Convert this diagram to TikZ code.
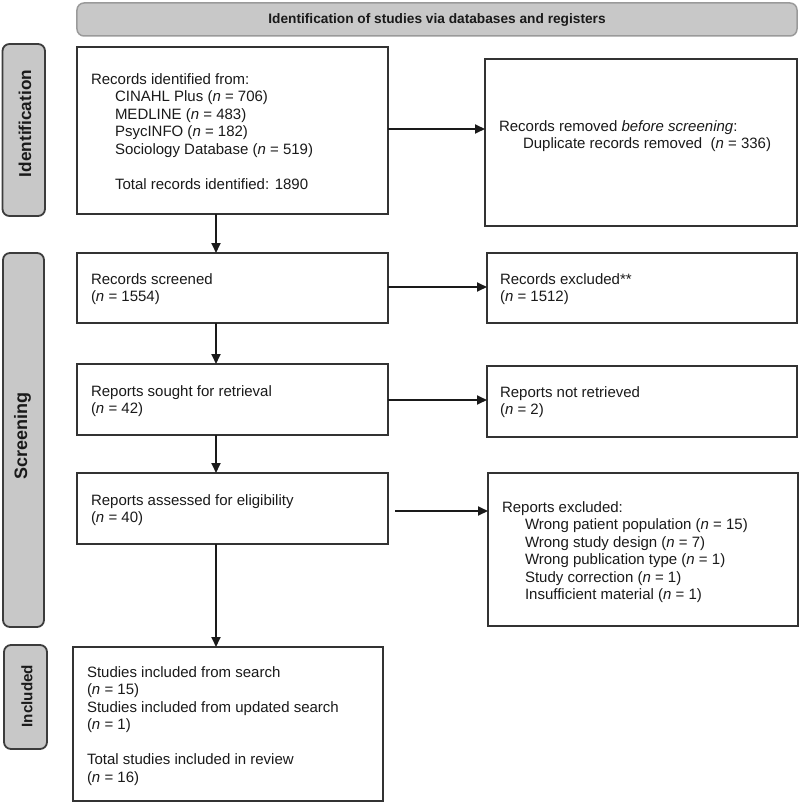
\documentclass[tikz,border=0pt]{standalone}
\usepackage{fontspec}
\setmainfont{Liberation Sans}
\usetikzlibrary{arrows.meta}
\definecolor{sidegray}{HTML}{C8C8C8}
\definecolor{sideline}{HTML}{3C3C3C}
\definecolor{bannerline}{HTML}{9A9A9A}
\definecolor{boxline}{HTML}{333333}
\definecolor{txt}{HTML}{1A1A1A}
\newcommand{\nn}{\textit{n}}
\newcommand{\fl}{\rule{0pt}{12bp}}
\newcommand{\ind}{\hspace*{24bp}}
\begin{document}
\begin{tikzpicture}[x=1bp,y=-1bp,
  every node/.style={inner sep=0pt, outer sep=0pt},
  flowbox/.style={draw=boxline, line width=1.8bp, fill=white, rectangle, anchor=north west},
  boxtext/.style={anchor=north west, align=left, text=txt, font=\fontsize{15bp}{17.5bp}\selectfont},
  sidebox/.style={draw=sideline, line width=1.8bp, fill=sidegray, rounded corners=7bp, rectangle},
  sidetext/.style={rotate=90, text=txt},
  banner/.style={draw=bannerline, line width=1.5bp, fill=sidegray, rounded corners=7bp, rectangle,
    text=txt, font=\bfseries\fontsize{13.7bp}{16bp}\selectfont},
  arr/.style={draw=txt, line width=1.8bp, -{Triangle[length=10bp,width=9bp]}}
]
\useasboundingbox (0,0) rectangle (800,803);

% banner
\node[banner, minimum width=720bp, minimum height=33bp] (ban) at (437,19.5) {Identification of studies via databases and registers};

% side labels
\node[sidebox, minimum width=42.5bp, minimum height=172bp] (sI) at (23.75,130) {};
\node[sidetext, font=\bfseries\fontsize{17.2bp}{20bp}\selectfont] (sIt) at (25,123.5) {Identification};
\node[sidebox, minimum width=41bp, minimum height=374bp] (sS) at (23.5,440) {};
\node[sidetext, font=\bfseries\fontsize{18bp}{20bp}\selectfont] (sSt) at (22.5,436) {Screening};
\node[sidebox, minimum width=43bp, minimum height=104bp] (sN) at (25.5,697) {};
\node[sidetext, font=\bfseries\fontsize{15.2bp}{18bp}\selectfont] (sNt) at (27,696) {Included};

% boxes
\node[flowbox, minimum width=311bp, minimum height=167bp] (b1) at (77,47) {};
\node[flowbox, minimum width=312bp, minimum height=167bp] (b2) at (485,59) {};
\node[flowbox, minimum width=311bp, minimum height=70bp] (b3) at (77,253) {};
\node[flowbox, minimum width=310bp, minimum height=70bp] (b4) at (487,253) {};
\node[flowbox, minimum width=311bp, minimum height=71bp] (b5) at (77,364) {};
\node[flowbox, minimum width=310bp, minimum height=71bp] (b6) at (487,366) {};
\node[flowbox, minimum width=311bp, minimum height=71bp] (b7) at (77,473) {};
\node[flowbox, minimum width=310bp, minimum height=153bp] (b8) at (488,473) {};
\node[flowbox, minimum width=310bp, minimum height=154bp] (b9) at (73,647) {};

% texts
\node[boxtext] (t1) at ([shift={(14,25)}]b1.north west) {\fl Records identified from:\\
\ind CINAHL Plus (\nn{} = 706)\\
\ind MEDLINE (\nn{} = 483)\\
\ind PsycINFO (\nn{} = 182)\\
\ind Sociology Database (\nn{} = 519)\\[17.5bp]
\ind Total records identified: 1890};
\node[boxtext] (t2) at ([shift={(14,60)}]b2.north west) {\fl Records removed \textit{before screening}:\\
\ind Duplicate records removed\ \ (\nn{} = 336)};
\node[boxtext] (t3) at ([shift={(14,19)}]b3.north west) {\fl Records screened\\(\nn{} = 1554)};
\node[boxtext] (t4) at ([shift={(13,19)}]b4.north west) {\fl Records excluded**\\(\nn{} = 1512)};
\node[boxtext] (t5) at ([shift={(14,20)}]b5.north west) {\fl Reports sought for retrieval\\(\nn{} = 42)};
\node[boxtext] (t6) at ([shift={(13,19)}]b6.north west) {\fl Reports not retrieved\\(\nn{} = 2)};
\node[boxtext] (t7) at ([shift={(14,20)}]b7.north west) {\fl Reports assessed for eligibility\\(\nn{} = 40)};
\node[boxtext] (t8) at ([shift={(14,27)}]b8.north west) {\fl Reports excluded:\\
\hspace*{23bp}Wrong patient population (\nn{} = 15)\\
\hspace*{23bp}Wrong study design (\nn{} = 7)\\
\hspace*{23bp}Wrong publication type (\nn{} = 1)\\
\hspace*{23bp}Study correction (\nn{} = 1)\\
\hspace*{23bp}Insufficient material (\nn{} = 1)};
\node[boxtext] (t9) at ([shift={(14,18.4)}]b9.north west) {\fl Studies included from search\\
(\nn{} = 15)\\
Studies included from updated search\\
(\nn{} = 1)\\[17.5bp]
Total studies included in review\\
(\nn{} = 16)};

% horizontal connectors
\coordinate (h1) at ([yshift=1.5bp]b1.east);
\draw[arr] (h1) -- (h1 -| b2.west);
\coordinate (h2) at ([yshift=1bp]b3.east);
\draw[arr] (h2) -- (h2 -| b4.west);
\coordinate (h3) at ([yshift=-0.5bp]b5.east);
\draw[arr] (h3) -- (h3 -| b6.west);
\coordinate (h4) at ([xshift=7bp,yshift=-2.5bp]b7.east);
\draw[arr] (h4) -- (h4 -| b8.west);

% vertical connectors
\coordinate (v1) at ([xshift=139bp]b1.south west);
\draw[arr] (v1) -- (v1 |- b3.north);
\coordinate (v2) at ([xshift=139bp]b3.south west);
\draw[arr] (v2) -- (v2 |- b5.north);
\coordinate (v3) at ([xshift=139bp]b5.south west);
\draw[arr] (v3) -- (v3 |- b7.north);
\coordinate (v4) at ([xshift=139bp]b7.south west);
\draw[arr] (v4) -- (v4 |- b9.north);
\end{tikzpicture}
\end{document}
